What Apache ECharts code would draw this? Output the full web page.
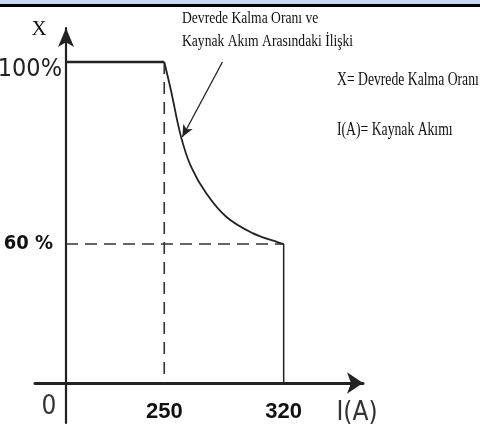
<!DOCTYPE html>
<html>
<head>
<meta charset="utf-8">
<script src="https://cdn.jsdelivr.net/npm/echarts@6/dist/echarts.min.js"></script>
<style>html,body{margin:0;padding:0;background:#fff}#c{width:480px;height:430px}</style>
</head>
<body>
<div id="c"></div>
<script>
// Schematic axes: the origin is not at 0 A / 0 %, so axis minimums are offsets
var X_ORIGIN = 192.4;   // current value where the vertical axis stands
var Y_ORIGIN = 29.45;   // duty-cycle value where the horizontal axis stands
var xTicks = [250, 320];
var yTicks = [60, 100];
var xTickLabels = ['250', '320'];
var yTickLabels = ['100%', '60 %'];
// Duty cycle (%) vs welding current (A)
var flatCurrent = [X_ORIGIN, 250];
var flatDuty = [100, 100];
var curveCurrent = [250, 253.9, 259.8, 265.7, 274.5, 286.3, 301.8, 317.1, 320];
var curveDuty = [100, 93.8, 83.6, 77.0, 71.2, 66.0, 62.4, 60.3, 60];
var dropCurrent = [320, 320];
var dropDuty = [60, Y_ORIGIN];
var dash60Current = [X_ORIGIN, 320];
var dash60Duty = [60, 60];
var dash250Current = [250, 250];
var dash250Duty = [100, Y_ORIGIN];
var pointerFrom = [284.1, 100];
var pointerTo = [260.6, 83.5];

function zip(a, b) { return a.map(function (v, i) { return [v, b[i]]; }); }

var chart = echarts.init(document.getElementById('c'), null, {renderer: 'canvas'});
var ink = '#222';
var narrow = "'Liberation Sans Narrow','DejaVu Sans Condensed','Roboto Condensed',sans-serif";
var serif = "'Liberation Serif','DejaVu Serif',serif";

chart.setOption({
  backgroundColor: '#fff',
  animation: false,
  grid: [
    {left: 66, right: 117, top: 28, bottom: 47, containLabel: false, outerBoundsMode: 'none'},
    {left: 35, right: 117, top: 28, bottom: 7, containLabel: false, outerBoundsMode: 'none'}
  ],
  xAxis: [
    {
      type: 'value', gridIndex: 0, min: X_ORIGIN, max: 366.5,
      axisLine: {show: false}, axisTick: {show: false}, splitLine: {show: false},
      axisLabel: {
        customValues: xTicks, margin: 18,
        fontFamily: "'Liberation Sans',Arial,sans-serif", fontWeight: 'bold', fontSize: 22, color: '#111',
        formatter: function (v) { return xTickLabels[xTicks.indexOf(v)]; }
      }
    },
    {
      type: 'value', gridIndex: 1, min: -31, max: 297,
      axisLine: {show: true, onZero: true, symbol: ['none', 'arrow'], symbolSize: [16, 16],
        lineStyle: {color: ink, width: 3}},
      axisTick: {show: false}, axisLabel: {show: false}, splitLine: {show: false}
    }
  ],
  yAxis: [
    {
      type: 'value', gridIndex: 0, min: Y_ORIGIN, max: 107.47,
      axisLine: {show: false}, axisTick: {show: false}, splitLine: {show: false},
      axisLabel: {
        customValues: yTicks, margin: 4,
        formatter: function (v) { return v === 100 ? '{a|' + yTickLabels[0] + '}' : '{b|' + yTickLabels[1] + '}'; },
        rich: {
          a: {fontFamily: narrow, fontSize: 25, color: '#222', padding: [16, 0, 0, 0]},
          b: {fontFamily: narrow, fontSize: 20, fontWeight: 'bold', color: '#111', padding: [0, 9, 0, 0]}
        }
      }
    },
    {
      type: 'value', gridIndex: 1, min: -40, max: 355,
      axisLine: {show: true, onZero: true, symbol: ['none', 'arrow'], symbolSize: [12, 19],
        lineStyle: {color: ink, width: 2.2}},
      axisTick: {show: false}, axisLabel: {show: false}, splitLine: {show: false}
    }
  ],
  series: [
    {type: 'line', data: zip(dash60Current, dash60Duty), symbol: 'none', silent: true,
      lineStyle: {color: '#333', width: 1.6, type: [12, 7]}},
    {type: 'line', data: zip(dash250Current, dash250Duty), symbol: 'none', silent: true,
      lineStyle: {color: '#333', width: 1.6, type: [12, 8]}},
    {type: 'line', data: zip(flatCurrent, flatDuty), symbol: 'none', silent: true,
      lineStyle: {color: ink, width: 2.5}},
    {type: 'line', data: zip(curveCurrent, curveDuty), symbol: 'none', smooth: 0.4, silent: true,
      lineStyle: {color: ink, width: 1.8},
      markLine: {
        silent: true, symbol: ['none', 'arrow'], symbolSize: [8, 12],
        label: {show: false},
        lineStyle: {color: ink, width: 1.3, type: 'solid'},
        data: [[{coord: pointerFrom}, {coord: pointerTo}]]
      }},
    {type: 'line', data: zip(dropCurrent, dropDuty), symbol: 'none', silent: true,
      lineStyle: {color: ink, width: 1.5}}
  ],
  graphic: [
    {type: 'rect', left: 0, top: 0, shape: {width: 480, height: 4}, style: {fill: '#c6d9f0'}},
    {type: 'rect', left: 0, top: 4, shape: {width: 480, height: 3}, style: {fill: '#000'}},
    {type: 'text', x: 39, y: 29, style: {text: 'X', font: '21px ' + serif, fill: '#111', align: 'center', verticalAlign: 'middle'}},
    {type: 'text', x: 49, y: 407, style: {text: '0', font: '26px ' + narrow, fill: '#333', align: 'center', verticalAlign: 'middle'}},
    {type: 'text', x: 357, y: 413, style: {text: 'I(A)', font: '26px ' + narrow, fill: '#333', align: 'center', verticalAlign: 'middle'}},
    {type: 'text', x: 182, y: 27, scaleX: 0.8, style: {text: 'Devrede Kalma Oranı ve', font: '17px ' + serif, fill: '#111', align: 'left', verticalAlign: 'bottom'}},
    {type: 'text', x: 182, y: 50, scaleX: 0.8, style: {text: 'Kaynak Akım Arasındaki İlişki', font: '17px ' + serif, fill: '#111', align: 'left', verticalAlign: 'bottom'}},
    {type: 'text', x: 337, y: 89, scaleX: 0.76, style: {text: 'X= Devrede Kalma Oranı', font: '18px ' + serif, fill: '#111', align: 'left', verticalAlign: 'bottom'}},
    {type: 'text', x: 337, y: 139, scaleX: 0.76, style: {text: 'I(A)= Kaynak Akımı', font: '18px ' + serif, fill: '#111', align: 'left', verticalAlign: 'bottom'}}
  ]
});
</script>
</body>
</html>
